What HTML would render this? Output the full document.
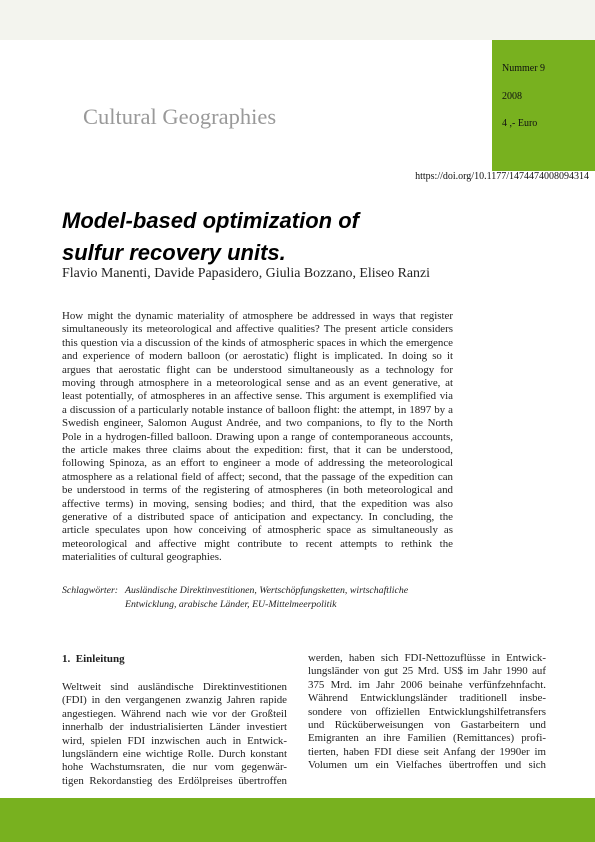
<!DOCTYPE html>
<html><head><meta charset="utf-8"><style>
*{margin:0;padding:0}
body{width:595px;height:842px;position:relative;background:#fff;overflow:hidden;font-family:"Liberation Serif",serif;color:#222}
.a{position:absolute}
.j{position:absolute;white-space:nowrap;text-align:justify;text-align-last:justify;line-height:13.4px;font-size:10.9px}
.l{text-align-last:left}
</style></head><body>
<div class="a" style="left:0;top:0;width:595px;height:40px;background:#f3f4ee"></div>
<div class="a" style="left:492px;top:40px;width:103px;height:131px;background:#78b11f"></div>
<div class="a" style="left:0;top:798px;width:595px;height:44px;background:#78b11f"></div>
<div class="a" style="left:502px;top:63px;font-size:10px;color:#111">Nummer 9</div>
<div class="a" style="left:502px;top:91px;font-size:10px;color:#111">2008</div>
<div class="a" style="left:502px;top:118px;font-size:10px;color:#111">4 ,- Euro</div>
<div class="a" style="left:83px;top:104px;font-size:22.5px;color:#999">Cultural Geographies</div>
<div class="a" style="right:6px;top:171px;font-size:10px;color:#111">https://doi.org/10.1177/1474474008094314</div>
<div class="a" style="left:62px;top:205px;font:italic bold 22px 'Liberation Sans',sans-serif;color:#000;line-height:32px">Model-based optimization of<br>sulfur recovery units.</div>
<div class="a" style="left:62px;top:266px;font-size:13.9px;color:#222">Flavio Manenti, Davide Papasidero, Giulia Bozzano, Eliseo Ranzi</div>
<div id="abs"></div>
<div class="a" style="left:62px;top:584px;font-size:9.8px;font-style:italic;line-height:13.6px">Schlagwörter:</div>
<div class="a" style="left:125px;top:584px;font-size:9.8px;font-style:italic;line-height:13.6px">Ausländische Direktinvestitionen, Wertschöpfungsketten, wirtschaftliche<br>Entwicklung, arabische Länder, EU-Mittelmeerpolitik</div>
<div class="a" style="left:62px;top:653px;font-size:11px;font-weight:bold">1.&nbsp; Einleitung</div>
<div id="c1"></div><div id="c2"></div>
<script>
function put(id,x,y,w,lines){var h='';lines.forEach(function(t,i){var last=i==lines.length-1&&id=='abs'?' l':'';h+='<div class="j'+last+'" style="left:'+x+'px;top:'+(y+i*13.4)+'px;width:'+w+'px">'+t+'</div>'});document.getElementById(id).outerHTML=h;}
put('abs',62,310,391,["How might the dynamic materiality of atmosphere be addressed in ways that register","simultaneously its meteorological and affective qualities? The present article considers","this question via a discussion of the kinds of atmospheric spaces in which the emergence","and experience of modern balloon (or aerostatic) flight is implicated. In doing so it","argues that aerostatic flight can be understood simultaneously as a technology for","moving through atmosphere in a meteorological sense and as an event generative, at","least potentially, of atmospheres in an affective sense. This argument is exemplified via","a discussion of a particularly notable instance of balloon flight: the attempt, in 1897 by a","Swedish engineer, Salomon August Andrée, and two companions, to fly to the North","Pole in a hydrogen-filled balloon. Drawing upon a range of contemporaneous accounts,","the article makes three claims about the expedition: first, that it can be understood,","following Spinoza, as an effort to engineer a mode of addressing the meteorological","atmosphere as a relational field of affect; second, that the passage of the expedition can","be understood in terms of the registering of atmospheres (in both meteorological and","affective terms) in moving, sensing bodies; and third, that the expedition was also","generative of a distributed space of anticipation and expectancy. In concluding, the","article speculates upon how conceiving of atmospheric space as simultaneously as","meteorological and affective might contribute to recent attempts to rethink the","materialities of cultural geographies."]);
put('c1',62,681,225,["Weltweit sind ausländische Direktinvestitionen","(FDI) in den vergangenen zwanzig Jahren rapide","angestiegen. Während nach wie vor der Großteil","innerhalb der industrialisierten Länder investiert","wird, spielen FDI inzwischen auch in Entwick-","lungsländern eine wichtige Rolle. Durch konstant","hohe Wachstumsraten, die nur vom gegenwär-","tigen Rekordanstieg des Erdölpreises übertroffen"]);
put('c2',308,652,238,["werden, haben sich FDI-Nettozuflüsse in Entwick-","lungsländer von gut 25 Mrd. US$ im Jahr 1990 auf","375 Mrd. im Jahr 2006 beinahe verfünfzehnfacht.","Während Entwicklungsländer traditionell insbe-","sondere von offiziellen Entwicklungshilfetransfers","und Rücküberweisungen von Gastarbeitern und","Emigranten an ihre Familien (Remittances) profi-","tierten, haben FDI diese seit Anfang der 1990er im","Volumen um ein Vielfaches übertroffen und sich"]);
</script>
</body></html>
